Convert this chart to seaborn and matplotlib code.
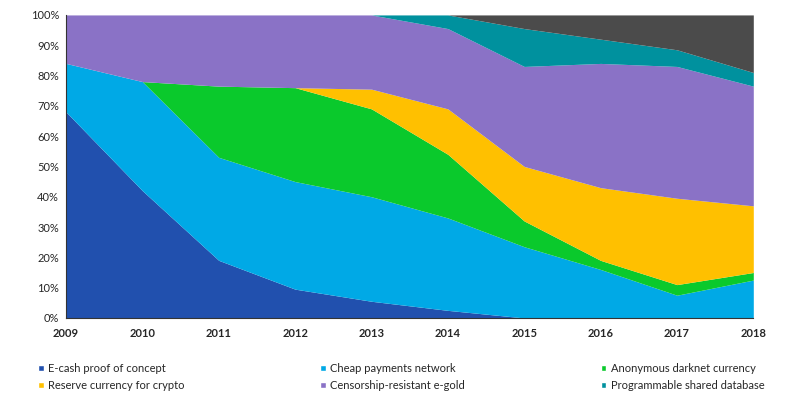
import numpy as np
import matplotlib
matplotlib.use("Agg")
import matplotlib.pyplot as plt
import matplotlib.ticker as mtick
from matplotlib.patches import Patch
import seaborn as sns

# Share of narrative per year (%), bottom to top of the stack
years = [2009, 2010, 2011, 2012, 2013, 2014, 2015, 2016, 2017, 2018]
ecash = [68, 42, 19, 9.5, 5.5, 2.5, 0, 0, 0, 0]
cheap_payments = [16, 36, 34, 35.5, 34.5, 30.5, 23.5, 16, 7.5, 12.5]
darknet = [0, 0, 23.5, 31, 29, 21, 8.5, 3, 3.5, 2.5]
reserve = [0, 0, 0, 0, 6.5, 15, 18, 24, 28.5, 22]
egold = [16, 22, 23.5, 24, 24.5, 26.5, 33, 41, 43.5, 39.5]
shared_db = [0, 0, 0, 0, 0, 4.5, 12.5, 8, 5.5, 4.5]
other = [0, 0, 0, 0, 0, 0, 4.5, 8, 11.5, 19]

labels = ["E-cash proof of concept", "Cheap payments network", "Anonymous darknet currency",
          "Reserve currency for crypto", "Censorship-resistant e-gold", "Programmable shared database"]
colors = ["#2150AE", "#00A9E6", "#0AC92C", "#FFC000", "#8A72C6", "#00919E", "#4B4B4B"]

sns.set_style("white")
plt.rcParams['font.family'] = ['Lato', 'DejaVu Sans']

fig = plt.figure(figsize=(8.1, 3.93), dpi=100)
ax = fig.add_axes([0.0815, 0.191, 0.8485, 0.771])

series = [ecash, cheap_payments, darknet, reserve, egold, shared_db, other]
ax.stackplot(years, *[np.array(s) / 100 for s in series], colors=colors, linewidth=0)

ax.set_xlim(2009, 2018)
ax.set_ylim(0, 1)
ax.set_xticks(years)
ax.set_yticks(np.arange(0, 1.01, 0.1))
ax.yaxis.set_major_formatter(mtick.PercentFormatter(1.0, decimals=0))
ax.tick_params(axis='both', which='major', length=3, width=1, color='#333333',
               labelsize=8, direction='out', pad=2)
for lab in ax.get_xticklabels():
    lab.set_fontweight('bold')
ax.tick_params(axis='x', pad=4)
sns.despine(ax=ax, top=True, right=True)
ax.spines['left'].set_color('#333333')
ax.spines['bottom'].set_color('#333333')

handles = [Patch(facecolor=c) for c in colors[:6]]
order = [0, 3, 1, 4, 2, 5]
fig.legend([handles[i] for i in order], [labels[i] for i in order],
           ncol=3, loc='lower left', bbox_to_anchor=(0.035, -0.02), frameon=False,
           fontsize=8, handlelength=0.5, handleheight=0.5, handletextpad=0.4,
           columnspacing=12.2, labelspacing=0.55)

fig.savefig("out.png", dpi=100)
